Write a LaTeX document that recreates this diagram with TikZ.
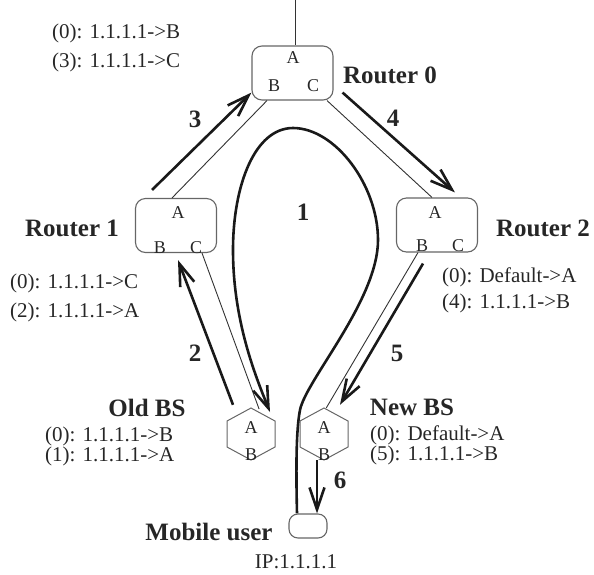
\documentclass[tikz,border=0pt]{standalone}
\usepackage{fontspec}
\setmainfont{Liberation Serif}
\usetikzlibrary{arrows.meta}
\begin{document}
\begin{tikzpicture}[x=1pt,y=-1pt,
  box/.style={draw=black!60,line width=1.1pt,rounded corners=10pt,minimum width=81pt,minimum height=54pt,inner sep=0pt},
  hexnode/.style={circle,minimum size=52pt,inner sep=0pt},
  hexline/.style={draw=black!60,line width=1pt},
  port/.style={font=\fontsize{18}{18}\selectfont,inner sep=0pt,text=black!85},
  lbl/.style={font=\bfseries\fontsize{25}{25}\selectfont,inner sep=0pt,text=black!85},
  num/.style={font=\bfseries\fontsize{25}{25}\selectfont,inner sep=0pt,text=black!85},
  tab/.style={font=\fontsize{21}{21}\selectfont,anchor=west,inner sep=0pt,text=black!85},
  thin/.style={line width=0.9pt,black!80},
  arr/.style={line width=2.6pt,black!90,-{Straight Barb[length=22pt,width=15pt]}}]
\useasboundingbox (0,0) rectangle (594,574);

% routers
\node[box] (r0) at (292.5,73) {};
\node[box] (r1) at (176,225.5) {};
\node[box] (r2) at (437,225) {};
\coordinate (top) at (295,0);
\draw[thin] (top) -- (top |- r0.north);

\node[port] (r0a) at (293,58) {A};
\node[port] (r0b) at (274,86) {B};
\node[port] (r0c) at (313,86) {C};
\node[port] (r1a) at (178,213) {A};
\node[port] (r1b) at (160,248) {B};
\node[port] (r1c) at (196,248) {C};
\node[port] (r2a) at (435,213) {A};
\node[port] (r2b) at (422,246) {B};
\node[port] (r2c) at (458,246) {C};

\node[lbl] (r0l) at (390,75) {Router 0};
\node[lbl] (r1l) at (72,228) {Router 1};
\node[lbl] (r2l) at (543,228) {Router 2};

% base stations
\node[hexnode] (ob) at (251,434) {};
\node[hexnode] (nb) at (324,434) {};
\draw[hexline] (ob.center) ++(0,-26) -- ++(24,13) -- ++(0,26) -- ++(-24,13) -- ++(-24,-13) -- ++(0,-26) -- cycle;
\draw[hexline] (nb.center) ++(0,-26) -- ++(24,13) -- ++(0,26) -- ++(-24,13) -- ++(-24,-13) -- ++(0,-26) -- cycle;
\node[port] (oba) at (251,428) {A};
\node[port] (obb) at (251,455) {B};
\node[port] (nba) at (324,428) {A};
\node[port] (nbb) at (324,455) {B};
\node[lbl] (obl) at (147,408) {Old BS};
\node[lbl] (nbl) at (412,407) {New BS};

% mobile user
\node[box,minimum width=38pt,minimum height=24pt,rounded corners=9pt] (mu) at (308,526) {};
\node[lbl] (mul) at (209,532) {Mobile user};
\node[tab,anchor=center] (ip) at (296,562) {IP:1.1.1.1};

% tables
\node[tab] (t01) at (52,33) {(0): 1.1.1.1->B};
\node[tab] (t02) at (52,62) {(3): 1.1.1.1->C};
\node[tab] (t11) at (10,283) {(0): 1.1.1.1->C};
\node[tab] (t12) at (10,312) {(2): 1.1.1.1->A};
\node[tab] (t21) at (442,277) {(0): Default->A};
\node[tab] (t22) at (442,303) {(4): 1.1.1.1->B};
\node[tab] (t31) at (45,436) {(0): 1.1.1.1->B};
\node[tab] (t32) at (45,456) {(1): 1.1.1.1->A};
\node[tab] (t41) at (370,435) {(0): Default->A};
\node[tab] (t42) at (370,455) {(5): 1.1.1.1->B};

% thin links
\draw[thin] ([xshift=-25.5pt]r0.south) -- ([xshift=-4pt]r1.north);
\draw[thin] ([xshift=34.5pt]r0.south) -- ([xshift=-5pt]r2.north);
\draw[thin] ([xshift=26pt]r1.south) -- (ob.72);
\draw[thin] ([xshift=-19pt]r2.south) -- (nb.85);

% thick arrows
\draw[arr] ([xshift=-24pt,yshift=8pt]r1.north) -- ([yshift=8pt]r0.south west);
\draw[arr] ([xshift=9pt,yshift=8pt]r0.south east) -- ([xshift=18pt,yshift=5pt]r2.north);
\draw[arr] ([xshift=-18pt,yshift=3pt]ob.north) -- ([xshift=2pt,yshift=-7pt]r1.south);
\draw[arr] ([xshift=-14pt,yshift=-11pt]r2.south) -- ([xshift=16pt,yshift=3pt]nb.north);
\draw[arr] ([xshift=-7pt]nb.south) -- ([xshift=9pt]mu.north);

% loop 1
\coordinate (lend) at (270,412);
\draw[arr] ([xshift=-11pt]mu.north) .. controls (296,470) and (296,430) .. (300,410)
  .. controls (306,380) and (378,300) .. (378,240)
  .. controls (378,185) and (335,128) .. (293,128)
  .. controls (255,128) and (233,185) .. (233,250)
  .. controls (233,320) and (255,375) .. (lend);

% step numbers
\node[num] (n1) at (303,212) {1};
\node[num] (n2) at (195,353) {2};
\node[num] (n3) at (195,119) {3};
\node[num] (n4) at (393,118) {4};
\node[num] (n5) at (397,353) {5};
\node[num] (n6) at (340,480) {6};
\end{tikzpicture}
\end{document}
